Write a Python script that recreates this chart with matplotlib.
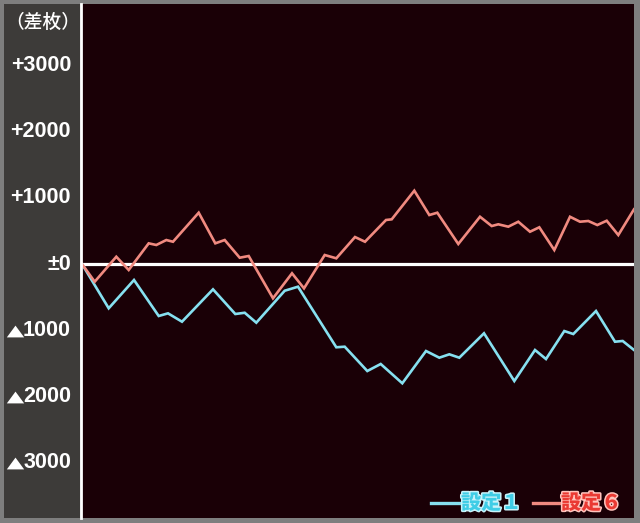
import matplotlib
matplotlib.use("Agg")
import matplotlib.pyplot as plt
import matplotlib.patheffects as pe
from matplotlib.transforms import blended_transform_factory
from matplotlib.lines import Line2D
from matplotlib.patches import Rectangle

# ---- data (x: game position, y: coin difference) ----
set6_x = [0, 12.7, 34.3, 46.7, 66.7, 74.3, 84.3, 91, 116.7, 133.3, 142.7, 157.7, 166.7,
          191, 210, 222, 242.7, 254.3, 273, 283, 304, 309.7, 332.3, 347.3, 355.3, 376.3,
          398, 409.7, 416.3, 426.3, 436.3, 448, 457.3, 472.3, 488, 498, 506.3, 515.3,
          524.7, 536.3, 552]
set6_y = [0, -267, 110, -90, 312, 287, 362, 336, 774, 312, 362, 95, 121,
          -517, -140, -367, 136, 86, 407, 336, 664, 674, 1106, 739, 774, 302,
          713, 573, 599, 563, 638, 487, 554, 211, 713, 638, 649, 588,
          653, 437, 825]

set1_x = [0, 26.7, 52, 76.7, 86, 100, 131, 153.3, 162.7, 174.3, 202.7, 216, 254.3,
          262.7, 285.3, 298.7, 320.3, 344, 357.3, 367.3, 377.3, 402, 432.3, 453, 464,
          482.3, 491.3, 514, 533, 540.7, 552]
set1_y = [0, -668, -241, -784, -744, -870, -382, -754, -735, -885, -403, -342, -1256,
          -1247, -1614, -1508, -1799, -1312, -1413, -1362, -1413, -1045, -1765, -1297, -1433,
          -1011, -1056, -709, -1172, -1161, -1297]

ytick_vals = [3000, 2000, 1000, 0, -1000, -2000, -3000]
ytick_nums = ["+3000", "+2000", "+1000", "±0", "1000", "2000", "3000"]
ylabel_text = "（差枚）"
legend_names = ["設定１", "設定６"]

# ---- styling ----
W, H = 640, 523
fig = plt.figure(figsize=(W / 100, H / 100), dpi=100)
fig.patch.set_facecolor("#7e7e7e")

def fx(px):
    return px / W

def fy(py):
    return 1 - py / H

# left panel
fig.patches.append(Rectangle((fx(4), fy(518)), fx(80) - fx(4), fy(4) - fy(518),
                             transform=fig.transFigure, facecolor="#3d3b39",
                             edgecolor="none", zorder=0))

ax = fig.add_axes([fx(82), fy(518), fx(634) - fx(82), fy(4) - fy(518)])
ax.set_facecolor("#1a0006")
ax.set_xlim(0, 552)
ax.set_ylim(-3831, 3922)
for s in ax.spines.values():
    s.set_visible(False)
ax.set_xticks([])
ax.set_yticks([])

# white separator line
fig.add_artist(Line2D([fx(80.5), fx(80.5)], [fy(518), fy(4)], transform=fig.transFigure,
                      color="white", lw=2.0, zorder=5))

ax.axhline(0, color="white", lw=2.3, zorder=2)

col1 = "#86e0f0"
col6 = "#f08a80"
ax.plot(set1_x, set1_y, color=col1, lw=1.9, zorder=3, solid_joinstyle="miter")
ax.plot(set6_x, set6_y, color=col6, lw=1.9, zorder=3, solid_joinstyle="miter")

# y labels
tr = blended_transform_factory(fig.transFigure, ax.transData)
tri = [(-1.0, -0.68), (1.0, -0.68), (0.0, 0.68)]
for v, s in zip(ytick_vals, ytick_nums):
    fig.text(fx(71), v, s, transform=tr, ha="right", va="center", color="white",
             fontsize=15.5, fontweight="bold", family=["Liberation Sans", "DejaVu Sans"])
    if v < 0:
        fig.add_artist(Line2D([fx(14.5)], [v - 5], transform=tr, linestyle="none",
                              marker=tri, markersize=12.5, color="white",
                              markeredgewidth=0, zorder=6))

fig.text(fx(43), fy(22), ylabel_text, ha="center", va="center", color="white",
         fontsize=13.5, fontweight="medium", family=["Noto Sans CJK JP", "DejaVu Sans"])

# legend
leg_y = fy(503)
for (x0, x1, tx, col, tcol, gcol, name) in [
        (431, 460, 461, col1, "#3fcde6", "#c9f3fa", legend_names[0]),
        (533, 560, 561, col6, "#ea3a33", "#ffc4bd", legend_names[1])]:
    fig.add_artist(Line2D([fx(x0), fx(x1)], [leg_y, leg_y], transform=fig.transFigure,
                          color=col, lw=2.4, zorder=6))
    fig.text(fx(tx), leg_y, name, ha="left", va="center", color=tcol, fontsize=14.5,
             fontweight="black", family=["Noto Sans CJK JP", "DejaVu Sans"],
             path_effects=[pe.withStroke(linewidth=2.2, foreground=gcol)], zorder=6)

fig.savefig("out.png", dpi=100, facecolor=fig.get_facecolor())
